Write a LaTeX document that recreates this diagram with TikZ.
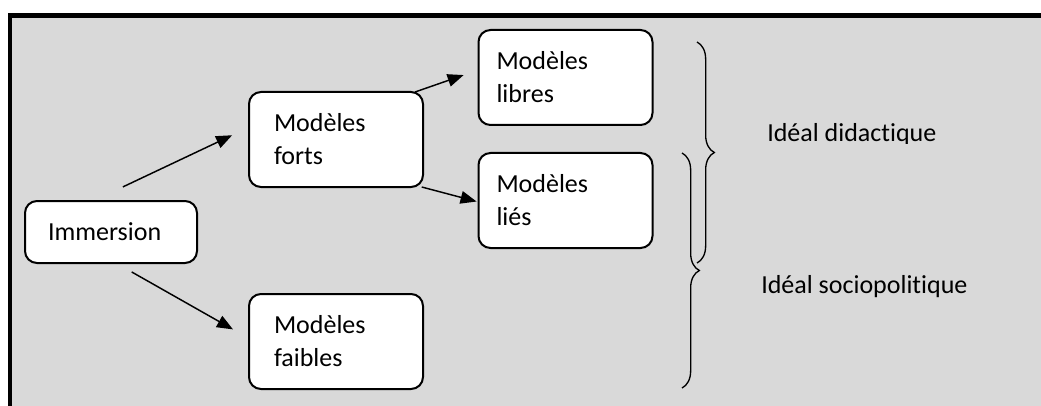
\documentclass[tikz,border=0pt]{standalone}
\usepackage{fontspec}
\setmainfont{Carlito}[Ligatures=NoCommon]
\usetikzlibrary{arrows.meta}
\usetikzlibrary{decorations.pathreplacing}

\begin{document}
\begin{tikzpicture}[x=0.75pt, y=-0.75pt,
    modele/.style={draw, line width=1.5pt, fill=white, rounded corners=9pt, outer sep=0pt,
        inner ysep=0pt, minimum height=71.25pt, align=left,
        font=\fontsize{19.5}{24.75}\selectfont},
    fleche/.style={line width=1.1pt, -{Triangle[length=12pt, width=9.5pt]}},
    accolade/.style={line width=1pt, decorate, decoration={brace, amplitude=13pt}}]
    \useasboundingbox (0,0) rectangle (1041,406);
    \fill[black!15] (10,15.5) rectangle (1041,406);
    \draw[line width=3.3pt] (1041,15.5) -- (10,15.5) -- (10,406);

    \node[modele, minimum height=46.5pt, inner xsep=17.25pt, text width=94.5pt] (imm) at (111,232) {Immersion};
    \node[modele, inner xsep=18.75pt, text width=93pt] (forts) at (336,139.5) {Modèles\\forts};
    \node[modele, inner xsep=18.75pt, text width=93pt] (faibles) at (336,341.5) {Modèles\\faibles};
    \node[modele, inner xsep=13.5pt, text width=103.5pt] (libres) at (565.5,77.5) {Modèles\\libres};
    \node[modele, inner xsep=13.5pt, text width=103.5pt] (lies) at (565.5,200.5) {Modèles\\liés};

    \draw[fleche, shorten <=24.7pt, shorten >=14pt] (imm.120) -- (forts.172.5);
    \draw[fleche, shorten <=13.6pt, shorten >=13.8pt] (imm.279.7) -- (faibles.178.5);
    \draw[fleche, shorten >=11.8pt] (forts.31.7) -- (libres.175.9);
    \draw[fleche, shorten >=1.5pt] (forts.331) -- (lies.181.3);

    \draw[accolade] (697,42) -- (697,263);
    \draw[accolade] (682,153) -- (682,388);

    \begin{scope}
    \clip (700,100) rectangle (1000,143.3);
    \node[anchor=base west, inner sep=0pt, font=\fontsize{19.5}{24.75}\selectfont] (didact) at (767,142) {Idéal didactique};
    \end{scope}
    \node[anchor=base west, inner sep=0pt, font=\fontsize{19.5}{24.75}\selectfont] (sociopol) at (761,293) {Idéal sociopolitique};
\end{tikzpicture}
\end{document}
